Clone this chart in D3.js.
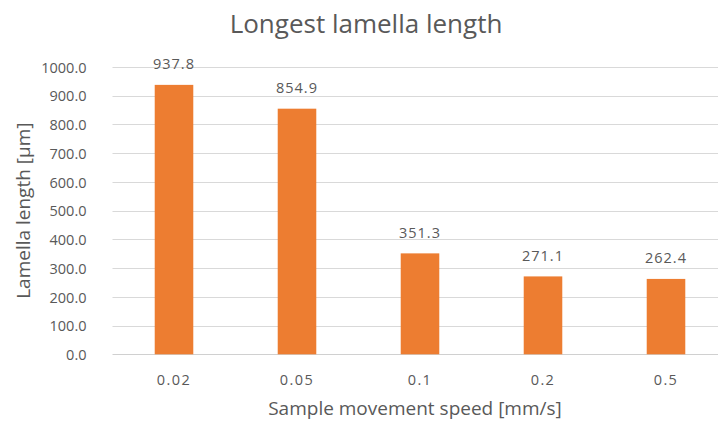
<!DOCTYPE html>
<html>
<head>
<meta charset="utf-8">
<script src="https://cdn.jsdelivr.net/npm/d3@7"></script>
<style>
  html, body { margin: 0; padding: 0; background: #fff; }
  svg { display: block; }
  text { font-family: "Open Sans", "Noto Sans", sans-serif; fill: #595959; }
</style>
</head>
<body>
<div id="chart"></div>
<script>
// Longest lamella length per sample movement speed
const speeds = ["0.02", "0.05", "0.1", "0.2", "0.5"];
const lengths = [937.8, 854.9, 351.3, 271.1, 262.4];
const yTicks = [0, 100, 200, 300, 400, 500, 600, 700, 800, 900, 1000];

const W = 718, H = 421;
const plot = { left: 112.5, right: 727.5, top: 67, bottom: 354.3 };

const svg = d3.select("#chart").append("svg")
  .attr("width", W).attr("height", H);

const x = d3.scaleBand()
  .domain(speeds)
  .range([plot.left, plot.right])
  .paddingInner(0.6865)
  .paddingOuter(0.6865 / 2);

const y = d3.scaleLinear()
  .domain([0, 1000])
  .range([plot.bottom, plot.top]);

// horizontal gridlines
svg.append("g")
  .selectAll("line")
  .data(yTicks)
  .join("line")
  .attr("x1", plot.left)
  .attr("x2", plot.right)
  .attr("y1", d => Math.round(y(d)) + 0.5)
  .attr("y2", d => Math.round(y(d)) + 0.5)
  .attr("stroke", d => d === 0 ? "#D0D0D0" : "#D9D9D9")
  .attr("stroke-width", 1);

// y axis labels
const yAxis = d3.axisLeft(y)
  .tickValues(yTicks)
  .tickFormat(d3.format(".1f"))
  .tickSize(0)
  .tickPadding(0);
const gy = svg.append("g")
  .attr("transform", `translate(${plot.left - 26},0)`)
  .call(yAxis);
gy.select(".domain").remove();
gy.selectAll("text")
  .attr("font-size", 14.5)
  .attr("font-family", null)
  .attr("fill", "#595959")
  .attr("dy", "0.36em");

// x axis labels
const xAxis = d3.axisBottom(x).tickSize(0).tickPadding(0);
const gx = svg.append("g")
  .attr("transform", `translate(0,${plot.bottom})`)
  .call(xAxis);
gx.select(".domain").remove();
gx.selectAll("text")
  .attr("font-size", 14.5)
  .attr("font-family", null)
  .attr("letter-spacing", "1.4px")
  .attr("fill", "#595959")
  .attr("dy", null)
  .attr("y", 31);

// bars
svg.append("g")
  .selectAll("rect")
  .data(lengths)
  .join("rect")
  .attr("x", (d, i) => x(speeds[i]))
  .attr("width", x.bandwidth())
  .attr("y", d => y(d))
  .attr("height", d => y(0) - y(d))
  .attr("fill", "#ED7D31");

// value labels
svg.append("g")
  .selectAll("text")
  .data(lengths)
  .join("text")
  .attr("x", (d, i) => x(speeds[i]) + x.bandwidth() / 2)
  .attr("y", d => y(d) - 15.5)
  .attr("text-anchor", "middle")
  .attr("font-size", 14.5)
  .attr("letter-spacing", "1px")
  .attr("fill", "#404040")
  .text(d => d3.format(".1f")(d));

// title
svg.append("text")
  .attr("x", 366)
  .attr("y", 33)
  .attr("text-anchor", "middle")
  .attr("font-size", 26)
  .text("Longest lamella length");

// axis titles
svg.append("text")
  .attr("x", 415)
  .attr("y", 415)
  .attr("text-anchor", "middle")
  .attr("font-size", 19)
  .text("Sample movement speed [mm/s]");

svg.append("text")
  .attr("transform", `translate(30,${(plot.top + plot.bottom) / 2}) rotate(-90)`)
  .attr("text-anchor", "middle")
  .attr("font-size", 19)
  .text("Lamella length [μm]");
</script>
</body>
</html>
